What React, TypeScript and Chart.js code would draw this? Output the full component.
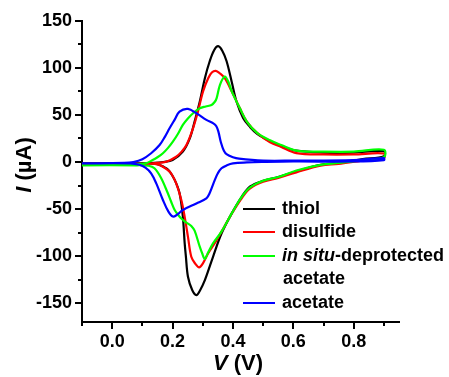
import React, { useEffect, useRef } from 'react';
import { Chart, registerables } from 'chart.js';

Chart.register(...registerables);

// ---- data (V in volts, I in microamps) ----
const thiolFwdV = [-0.1, 0.05, 0.14, 0.17, 0.2, 0.234, 0.257, 0.273, 0.29, 0.307, 0.323, 0.338, 0.351, 0.365, 0.379, 0.396, 0.412, 0.434, 0.457, 0.48, 0.523, 0.56, 0.61, 0.7, 0.8, 0.9];
const thiolFwdI = [-1.5, -1.5, -1, 0, 2, 11, 25, 43, 64, 89, 107, 119, 123, 118, 107, 85, 64, 46.5, 37, 30, 22, 17, 12, 10, 10, 11.5];
const thiolRevV = [0.9, 0.83, 0.75, 0.69, 0.61, 0.55, 0.5, 0.457, 0.429, 0.396, 0.362, 0.334, 0.307, 0.29, 0.279, 0.265, 0.251, 0.244, 0.24, 0.234, 0.223, 0.207, 0.19, 0.179, 0.146, 0.1, -0.1];
const thiolRevI = [6, 3, -1, -3, -10, -16, -20, -26, -37, -54.6, -76, -100.7, -125.5, -137, -141.5, -136, -122, -100, -86, -58, -33, -19, -10, -6.7, -2, -1.5, -1.5];

const disulfideFwdV = [-0.1, 0.1, 0.15, 0.179, 0.212, 0.23, 0.246, 0.268, 0.284, 0.301, 0.318, 0.33, 0.343, 0.357, 0.373, 0.396, 0.423, 0.446, 0.48, 0.523, 0.56, 0.61, 0.7, 0.8, 0.9];
const disulfideFwdI = [-2, -2, -1, 0.3, 5.6, 11, 18, 36, 53.5, 75, 89, 95, 96.8, 94, 89, 75, 57, 43, 31, 21, 16, 9.5, 8, 8, 9];
const disulfideRevV = [0.9, 0.83, 0.75, 0.69, 0.61, 0.55, 0.5, 0.457, 0.43, 0.396, 0.362, 0.346, 0.318, 0.3, 0.288, 0.275, 0.262, 0.251, 0.24, 0.229, 0.212, 0.195, 0.184, 0.151, 0.1, -0.1];
const disulfideRevI = [4, 1.5, -2, -4, -11, -17, -21, -28, -38, -55, -74, -83, -97, -108, -112, -108, -100.7, -79.5, -58, -40.4, -22.7, -12, -8.5, -2.5, -2, -2];

const insituFwdV = [-0.1, 0.05, 0.11, 0.134, 0.15, 0.168, 0.185, 0.201, 0.218, 0.234, 0.25, 0.268, 0.29, 0.31, 0.329, 0.34, 0.346, 0.357, 0.373, 0.385, 0.396, 0.423, 0.446, 0.48, 0.523, 0.56, 0.61, 0.7, 0.8, 0.9];
const insituFwdI = [-3.5, -3, -1.5, 2, 5, 9.3, 15, 21.6, 30, 39.4, 46, 51.8, 57, 59, 60.6, 64, 67.8, 82, 90.8, 85, 75, 57, 43, 31, 23, 18, 12, 11, 11, 13];
const insituRevV = [0.9, 0.83, 0.75, 0.69, 0.61, 0.55, 0.5, 0.457, 0.429, 0.396, 0.362, 0.334, 0.318, 0.307, 0.298, 0.29, 0.273, 0.262, 0.251, 0.24, 0.229, 0.218, 0.207, 0.195, 0.184, 0.162, 0.14, 0.12, 0.08, -0.1];
const insituRevI = [5, 2, -1, -3, -9, -16, -20, -27, -37, -54.6, -74, -86.5, -96, -103, -97, -90, -73, -68, -65.5, -63, -60, -56, -51, -42, -33, -17, -6.7, -4, -3.5, -3.5];

const acetateFwdV = [-0.1, 0.04, 0.07, 0.1, 0.129, 0.157, 0.175, 0.19, 0.207, 0.223, 0.251, 0.279, 0.312, 0.335, 0.345, 0.352, 0.36, 0.37, 0.38, 0.4, 0.42, 0.5, 0.6, 0.8, 0.9];
const acetateFwdI = [-1.5, -1, 0, 3, 9.3, 18, 27, 35.8, 45, 53.5, 56.4, 51.8, 44.7, 41, 38, 32, 21, 12, 8, 5, 3.5, 1.5, 1.5, 2, 4];
const acetateRevV = [0.9, 0.8, 0.6, 0.5, 0.446, 0.4, 0.38, 0.362, 0.35, 0.34, 0.323, 0.312, 0.279, 0.234, 0.215, 0.201, 0.185, 0.168, 0.146, 0.129, 0.11, 0.09, 0.06, -0.1];
const acetateRevI = [2, 0.5, 0.5, 0, -0.5, -1.5, -3.5, -6.7, -12, -19, -33, -38.6, -44, -51, -56, -58, -52, -40.4, -22.7, -12, -6, -3, -1.5, -1.5];

const seriesColors = ['#000000', '#ff0000', '#00ff00', '#0000ff'];
const legendRows = [
  { color: '#000000', italic: '', text: 'thiol' },
  { color: '#ff0000', italic: '', text: 'disulfide' },
  { color: '#00ff00', italic: 'in situ', text: '-deprotected' },
  { color: '', italic: '', text: 'acetate' },
  { color: '#0000ff', italic: '', text: 'acetate' },
];
const xLabelValues = [0, 0.2, 0.4, 0.6, 0.8];
const yLabelValues = [-150, -100, -50, 0, 50, 100, 150];

const FONT = '"Liberation Sans", Arial, sans-serif';

function loop(fv: number[], fi: number[], rv: number[], ri: number[]) {
  return [
    ...fv.map((v, k) => ({ x: v, y: fi[k] })),
    ...rv.map((v, k) => ({ x: v, y: ri[k] })),
  ];
}

const decorPlugin = {
  id: 'decor',
  afterDraw(chart: any) {
    const ctx = chart.ctx as CanvasRenderingContext2D;
    const xs = chart.scales.x;
    const ys = chart.scales.y;
    const ca = chart.chartArea;
    ctx.save();
    ctx.strokeStyle = '#000';
    ctx.lineWidth = 2;
    // y ticks
    for (let v = -150; v <= 150; v += 25) {
      const py = Math.round(ys.getPixelForValue(v));
      const len = v % 50 === 0 ? 7 : 4;
      ctx.beginPath();
      ctx.moveTo(ca.left, py);
      ctx.lineTo(ca.left - len, py);
      ctx.stroke();
    }
    // x ticks
    for (let k = -1; k <= 9; k++) {
      const px = Math.round(xs.getPixelForValue(k / 10));
      const len = k % 2 === 0 ? 7 : 4;
      ctx.beginPath();
      ctx.moveTo(px, ca.bottom);
      ctx.lineTo(px, ca.bottom + len);
      ctx.stroke();
    }
    // axis titles
    ctx.fillStyle = '#000';
    ctx.textBaseline = 'middle';
    const italicF = `italic bold 22px ${FONT}`;
    const boldF = `bold 22px ${FONT}`;
    // x title
    {
      ctx.font = italicF;
      const w1 = ctx.measureText('V').width;
      ctx.font = boldF;
      const w2 = ctx.measureText(' (V)').width;
      const cx = 238;
      const cy = 364;
      const x0 = cx - (w1 + w2) / 2;
      ctx.textAlign = 'left';
      ctx.font = italicF;
      ctx.fillText('V', x0, cy);
      ctx.font = boldF;
      ctx.fillText(' (V)', x0 + w1, cy);
    }
    // y title
    {
      ctx.save();
      ctx.translate(25, 165);
      ctx.rotate(-Math.PI / 2);
      ctx.font = italicF;
      const w1 = ctx.measureText('I').width;
      ctx.font = boldF;
      const w2 = ctx.measureText(' (\u00b5A)').width;
      const x0 = -(w1 + w2) / 2;
      ctx.textAlign = 'left';
      ctx.font = italicF;
      ctx.fillText('I', x0, 0);
      ctx.font = boldF;
      ctx.fillText(' (\u00b5A)', x0 + w1, 0);
      ctx.restore();
    }
    // legend
    const rowY = [209, 232, 256, 279, 303];
    legendRows.forEach((r, k) => {
      const y = rowY[k];
      if (r.color) {
        ctx.strokeStyle = r.color;
        ctx.lineWidth = 2;
        ctx.beginPath();
        ctx.moveTo(243, y);
        ctx.lineTo(275, y);
        ctx.stroke();
      }
      let x = r.color ? 282 : 283;
      ctx.fillStyle = '#000';
      ctx.textAlign = 'left';
      if (r.italic) {
        ctx.font = `italic bold 18px ${FONT}`;
        ctx.fillText(r.italic, x, y);
        x += ctx.measureText(r.italic).width;
      }
      ctx.font = `bold 18px ${FONT}`;
      ctx.fillText(r.text, x, y);
    });
    ctx.restore();
  },
};

export default function App() {
  const ref = useRef<HTMLCanvasElement>(null);
  useEffect(() => {
    if (!ref.current) return;
    const series = [
      loop(thiolFwdV, thiolFwdI, thiolRevV, thiolRevI),
      loop(disulfideFwdV, disulfideFwdI, disulfideRevV, disulfideRevI),
      loop(insituFwdV, insituFwdI, insituRevV, insituRevI),
      loop(acetateFwdV, acetateFwdI, acetateRevV, acetateRevI),
    ];
    const names = ['thiol', 'disulfide', 'in situ-deprotected acetate', 'acetate'];
    const chart = new Chart(ref.current, {
      type: 'scatter',
      data: {
        datasets: series.map((d, k) => ({
          label: names[k],
          data: d,
          showLine: true,
          borderColor: seriesColors[k],
          backgroundColor: seriesColors[k],
          borderWidth: 2.2,
          pointRadius: 0,
          tension: 0.35,
          fill: false,
          order: 3 - k,
        })),
      },
      options: {
        responsive: false,
        animation: false,
        layout: { padding: { left: 0, top: 20, right: 50, bottom: 0 } },
        plugins: { legend: { display: false }, tooltip: { enabled: false } },
        scales: {
          x: {
            type: 'linear',
            min: -0.1,
            max: 0.95,
            afterFit: (s: any) => { s.height = 55; },
            grid: { display: false, drawTicks: false },
            border: { display: true, color: '#000', width: 2 },
            ticks: {
              stepSize: 0.1,
              includeBounds: false,
              padding: 9,
              color: '#000',
              maxRotation: 0,
              autoSkip: false,
              font: { family: FONT, size: 18, weight: 'bold' },
              callback: (v: any) => {
                const hit = xLabelValues.find((t) => Math.abs(t - v) < 1e-6);
                return hit !== undefined ? hit.toFixed(1) : '';
              },
            },
          },
          y: {
            type: 'linear',
            min: -170,
            max: 150,
            afterFit: (s: any) => { s.width = 82; },
            grid: { display: false, drawTicks: false },
            border: { display: true, color: '#000', width: 2 },
            ticks: {
              stepSize: 50,
              includeBounds: false,
              padding: 10,
              color: '#000',
              autoSkip: false,
              font: { family: FONT, size: 18, weight: 'bold' },
              callback: (v: any) => (yLabelValues.some((t) => Math.abs(t - v) < 1e-6) ? String(Math.round(v)) : ''),
            },
          },
        },
      },
      plugins: [decorPlugin],
    } as any);
    return () => chart.destroy();
  }, []);
  return (
    <canvas
      ref={ref}
      width={449}
      height={377}
      style={{ position: 'absolute', left: 0, top: 0, width: 449, height: 377 }}
    />
  );
}
